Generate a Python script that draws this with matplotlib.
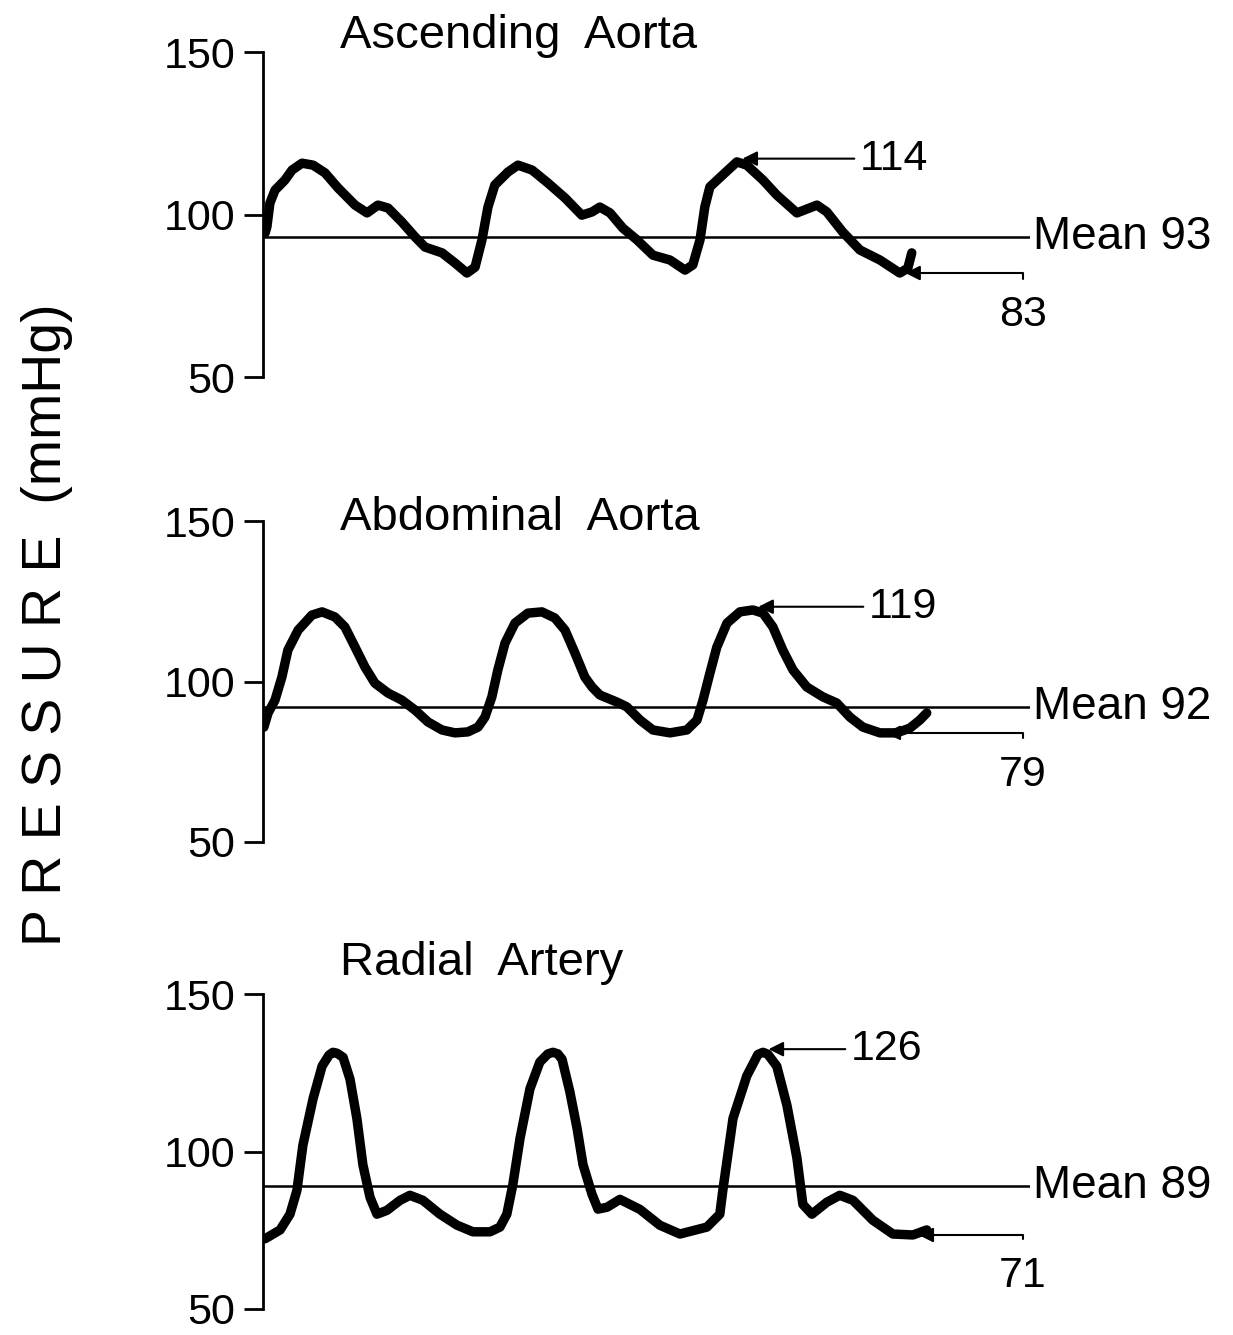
import matplotlib.pyplot as plt

plt.rcParams['font.family'] = ['Liberation Sans', 'DejaVu Sans']

# traced pressure waves: time (s) and pressure (mmHg)
asc_t = [0.007, 0.013, 0.023, 0.040, 0.073, 0.097, 0.130, 0.167, 0.207, 0.250,
         0.307, 0.347, 0.383, 0.417, 0.463, 0.507, 0.540, 0.597, 0.640, 0.680,
         0.707, 0.730, 0.750, 0.773, 0.817, 0.850, 0.897, 0.950, 1.007, 1.063,
         1.097, 1.123, 1.157, 1.200, 1.247, 1.300, 1.357, 1.407, 1.433, 1.457,
         1.473, 1.490, 1.533, 1.580, 1.613, 1.667, 1.713, 1.780, 1.847, 1.880,
         1.933, 1.990, 2.057, 2.123, 2.150, 2.163]
asc_p = [94.3, 96.2, 103.5, 107.5, 110.6, 113.7, 115.8, 115.2, 112.8, 108.2,
         102.9, 100.5, 102.9, 102.0, 97.7, 93.1, 90.0, 88.2, 85.1, 82.0,
         83.8, 92.2, 102.3, 109.1, 113.1, 115.2, 113.7, 109.7, 105.1, 99.8,
         100.8, 102.3, 100.5, 95.8, 92.2, 87.5, 86.0, 82.9, 84.5, 92.2,
         102.3, 108.5, 112.2, 116.2, 115.2, 110.6, 106.0, 100.5, 102.9, 100.8,
         94.6, 89.1, 86.0, 82.0, 83.5, 88.2]

abd_t = [0.003, 0.017, 0.040, 0.063, 0.083, 0.117, 0.163, 0.197, 0.240, 0.273,
         0.307, 0.340, 0.373, 0.417, 0.463, 0.507, 0.550, 0.597, 0.640, 0.683,
         0.717, 0.740, 0.763, 0.783, 0.807, 0.840, 0.883, 0.930, 0.973, 1.007,
         1.040, 1.073, 1.097, 1.123, 1.180, 1.213, 1.257, 1.300, 1.357, 1.413,
         1.447, 1.467, 1.490, 1.513, 1.547, 1.590, 1.633, 1.667, 1.700, 1.733,
         1.767, 1.813, 1.867, 1.913, 1.957, 2.000, 2.057, 2.113, 2.157, 2.190,
         2.213]
abd_p = [85.8, 90.2, 94.2, 101.4, 109.8, 116.0, 120.7, 121.7, 120.1, 117.0,
         110.7, 104.5, 99.5, 96.4, 94.2, 91.1, 87.4, 84.9, 84.0, 84.3,
         85.8, 88.9, 95.2, 103.6, 112.0, 118.2, 121.3, 121.7, 119.8, 116.0,
         108.9, 101.4, 98.3, 95.8, 93.6, 92.1, 88.0, 84.9, 84.0, 84.9,
         88.0, 94.2, 102.6, 110.7, 118.2, 121.7, 122.3, 121.3, 117.0, 109.8,
         103.6, 98.3, 95.2, 93.3, 88.9, 85.8, 84.0, 84.0, 85.5, 88.0,
         90.2]

rad_t = [0.007, 0.057, 0.090, 0.113, 0.133, 0.167, 0.197, 0.220, 0.233, 0.247,
         0.267, 0.290, 0.313, 0.333, 0.357, 0.380, 0.413, 0.457, 0.490, 0.533,
         0.590, 0.647, 0.700, 0.757, 0.790, 0.813, 0.833, 0.857, 0.890, 0.923,
         0.950, 0.967, 0.983, 0.997, 1.023, 1.047, 1.067, 1.097, 1.117, 1.147,
         1.190, 1.257, 1.323, 1.390, 1.480, 1.523, 1.533, 1.567, 1.613, 1.650,
         1.667, 1.683, 1.713, 1.747, 1.780, 1.800, 1.830, 1.880, 1.923, 1.967,
         2.033, 2.100, 2.167, 2.213]
rad_p = [72.3, 75.1, 80.1, 87.6, 102.0, 116.8, 127.1, 130.6, 131.5, 131.2,
         129.9, 123.0, 110.5, 95.8, 85.4, 80.1, 81.3, 84.5, 86.1, 84.5,
         80.1, 76.6, 74.5, 74.5, 76.0, 80.1, 89.5, 104.2, 119.9, 128.4,
         131.0, 131.5, 131.0, 129.3, 119.0, 107.4, 95.8, 86.4, 81.7, 82.3,
         84.8, 81.6, 76.6, 73.8, 76.0, 80.1, 87.6, 110.5, 124.0, 130.8,
         131.5, 130.9, 127.1, 114.6, 98.0, 83.2, 80.1, 83.9, 86.1, 84.5,
         78.2, 73.8, 73.5, 75.1]

titles = ['Ascending Aorta', 'Abdominal Aorta', 'Radial Artery']
means = [93, 92, 89]
peaks = [114, 119, 126]
troughs = [83, 79, 71]

waves = [(asc_t, asc_p), (abd_t, abd_p), (rad_t, rad_p)]

fig = plt.figure(figsize=(12.33, 13.35), dpi=100)

# axes boxes (left, bottom, width, height)
rects = [[0.2133, 0.7176, 0.622, 0.2434],
         [0.2133, 0.3693, 0.622, 0.2404],
         [0.2133, 0.0195, 0.622, 0.2359]]
title_y = [155.0, 150.9, 160.0]
peak_text_x = [1.99, 2.02, 1.96]

for i in range(3):
    ax = fig.add_axes(rects[i])
    t, p = waves[i]

    ax.plot(t, p, color='k', lw=6.8, solid_capstyle='round', solid_joinstyle='round')
    ax.axhline(means[i], color='k', lw=1.8)

    ax.set_xlim(0, 2.557)
    ax.set_ylim(50, 150)
    ax.set_yticks([50, 100, 150])
    ax.set_xticks([])
    for s in ['top', 'right', 'bottom']:
        ax.spines[s].set_visible(False)
    ax.spines['left'].set_linewidth(2)
    ax.tick_params(axis='y', direction='out', length=14, width=2, pad=6, labelsize=31)

    ax.text(0.257, title_y[i], titles[i].replace(' ', '  '), fontsize=34, va='center', ha='left')
    ax.text(1.004, means[i], 'Mean ' + str(means[i]), transform=ax.get_yaxis_transform(),
            fontsize=33, va='center', ha='left')

    # peak of last beat
    last = [k for k in range(len(t)) if t[k] > 1.4]
    k_pk = max(last, key=lambda k: p[k])
    ax.annotate(str(peaks[i]), xy=(t[k_pk], p[k_pk] + 1), xytext=(peak_text_x[i], p[k_pk] + 1),
                fontsize=31, va='center', ha='left', annotation_clip=False,
                arrowprops=dict(arrowstyle='-|>', color='k', lw=1.5, mutation_scale=22,
                                shrinkA=2, shrinkB=4, relpos=(0, 0.5)))

    # trough at end of trace
    end = [k for k in range(len(t)) if t[k] > 1.9]
    k_tr = min(end, key=lambda k: p[k])
    ax.annotate(str(troughs[i]), xy=(t[k_tr], p[k_tr]), xytext=(2.533, p[k_tr] - 13),
                fontsize=31, va='center', ha='center', annotation_clip=False,
                arrowprops=dict(arrowstyle='-|>', color='k', lw=1.5, mutation_scale=22,
                                shrinkA=10, shrinkB=4, relpos=(0.5, 1),
                                connectionstyle='angle,angleA=90,angleB=0,rad=0'))

fig.text(47 / 1233, 1 - 625 / 1335, 'P R E S S U R E  (mmHg)', rotation=90,
         fontsize=40, ha='center', va='center')

fig.savefig('out.png', dpi=100)
